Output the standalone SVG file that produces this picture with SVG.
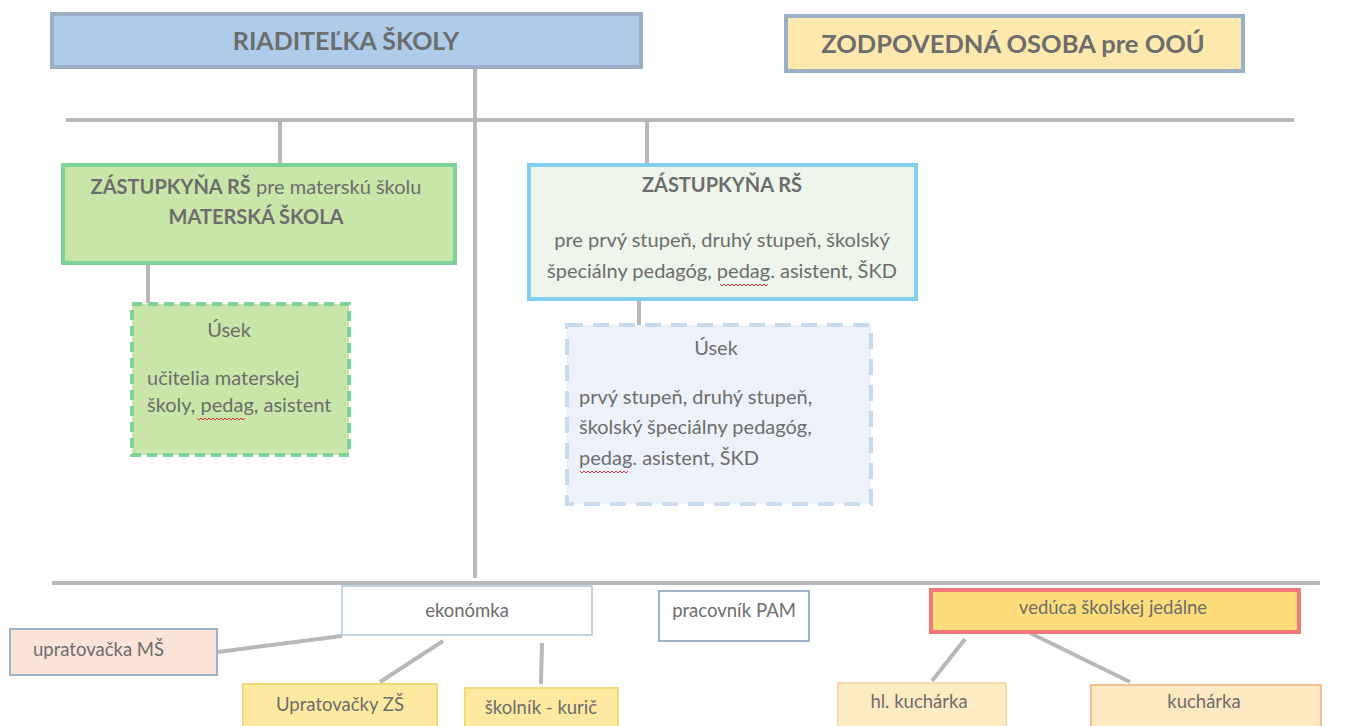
<svg xmlns="http://www.w3.org/2000/svg" width="1360" height="726" viewBox="0 0 1360 726">
<style>
text{font-family:Lato,"Open Sans","Liberation Sans",sans-serif;fill:#6d6d6d;}
.b{font-weight:bold;}
.c{text-anchor:middle;}
.m{font-size:20px;}
.s{font-size:18.5px;}
.ln{stroke:#b8b8b8;stroke-width:4;fill:none;}
.sq{stroke:#e03030;stroke-width:1;fill:none;}
</style>
<rect width="1360" height="726" fill="#ffffff"/>
<g id="connectors">
<line class="ln" x1="475" y1="68" x2="475" y2="578"/>
<line class="ln" x1="66" y1="120" x2="1294" y2="120"/>
<line class="ln" x1="280" y1="120" x2="280" y2="163"/>
<line class="ln" x1="647" y1="120" x2="647" y2="163"/>
<line class="ln" x1="148" y1="264" x2="148" y2="303"/>
<line class="ln" x1="639" y1="300" x2="639" y2="325"/>
<line class="ln" x1="52" y1="583" x2="1320" y2="583"/>
<line class="ln" x1="342" y1="636" x2="218" y2="652"/>
<line class="ln" x1="443" y1="641" x2="380" y2="682"/>
<line class="ln" x1="542" y1="643" x2="541" y2="684"/>
<line class="ln" x1="965" y1="639" x2="932" y2="681"/>
<line class="ln" x1="1030" y1="633" x2="1130" y2="682"/>
</g>
<g id="riaditelka">
<rect x="52" y="14" width="589" height="53" fill="#aecbea" stroke="#9aaec4" stroke-width="4"/>
<text class="b c" x="346" y="50" font-size="25">RIADITEĽKA ŠKOLY</text>
</g>
<g id="zodpovedna">
<rect x="786" y="16" width="457" height="55" fill="#fde9ad" stroke="#9ab0c8" stroke-width="4"/>
<text class="b c" x="1013" y="53" font-size="25.5">ZODPOVEDNÁ OSOBA pre OOÚ</text>
</g>
<g id="zastupkyna-ms">
<rect x="63" y="165" width="392" height="98" fill="#c9e6a8" stroke="#7dd29a" stroke-width="4"/>
<text class="c m" x="256" y="194"><tspan class="b">ZÁSTUPKYŇA RŠ</tspan> pre materskú školu</text>
<text class="b c m" x="256" y="224">MATERSKÁ ŠKOLA</text>
</g>
<g id="usek-ms">
<rect x="132" y="304" width="217" height="151" fill="#c9e6a8" stroke="#7dd29a" stroke-width="4" stroke-dasharray="10,6"/>
<text class="c m" x="229" y="337">Úsek</text>
<text class="m" x="147" y="385">učitelia materskej</text>
<text class="m" x="147" y="412">školy, pedag, asistent</text>
<path class="sq" d="M197 418 l2 2 l2 -2 l2 2 l2 -2 l2 2 l2 -2 l2 2 l2 -2 l2 2 l2 -2 l2 2 l2 -2 l2 2 l2 -2 l2 2 l2 -2 l2 2 l2 -2 l2 2 l2 -2 l2 2 l2 -2 l2 2 l2 -2"/>
</g>
<g id="zastupkyna-zs">
<rect x="529" y="165" width="387" height="134" fill="#eef5ea" stroke="#7fd0ee" stroke-width="4"/>
<text class="b c m" x="722" y="192">ZÁSTUPKYŇA RŠ</text>
<text class="c m" x="722" y="247">pre prvý stupeň, druhý stupeň, školský</text>
<text class="c m" x="722" y="278">špeciálny pedagóg, pedag. asistent, ŠKD</text>
<path class="sq" d="M720 284 l2 2 l2 -2 l2 2 l2 -2 l2 2 l2 -2 l2 2 l2 -2 l2 2 l2 -2 l2 2 l2 -2 l2 2 l2 -2 l2 2 l2 -2 l2 2 l2 -2 l2 2 l2 -2 l2 2 l2 -2 l2 2 l2 -2"/>
</g>
<g id="usek-zs">
<rect x="567" y="325" width="304" height="179" fill="#edf2fa" stroke="#c8daee" stroke-width="4" stroke-dasharray="16,10"/>
<text class="c m" x="716" y="355">Úsek</text>
<text class="m" x="579" y="404">prvý stupeň, druhý stupeň,</text>
<text class="m" x="579" y="434">školský špeciálny pedagóg,</text>
<text class="m" x="579" y="465">pedag. asistent, ŠKD</text>
<path class="sq" d="M580 471 l2 2 l2 -2 l2 2 l2 -2 l2 2 l2 -2 l2 2 l2 -2 l2 2 l2 -2 l2 2 l2 -2 l2 2 l2 -2 l2 2 l2 -2 l2 2 l2 -2 l2 2 l2 -2 l2 2 l2 -2 l2 2 l2 -2"/>
</g>
<g id="ekonomka">
<rect x="342" y="586" width="250" height="49" fill="#ffffff" stroke="#a8c8e0" stroke-width="1.5"/>
<text class="c s" x="467" y="617">ekonómka</text>
</g>
<g id="upratovacka-ms">
<rect x="10" y="629" width="207" height="46" fill="#fae3d7" stroke="#9fb3c8" stroke-width="2"/>
<text class="s" x="33" y="656">upratovačka MŠ</text>
</g>
<g id="upratovacky-zs">
<rect x="243" y="684" width="194" height="44" fill="#fde9a0" stroke="#f5d87a" stroke-width="2"/>
<text class="c s" x="340" y="711">Upratovačky ZŠ</text>
</g>
<g id="skolnik">
<rect x="465" y="688" width="153" height="40" fill="#fde9a0" stroke="#f5d87a" stroke-width="2"/>
<text class="c s" x="541" y="714">školník - kurič</text>
</g>
<g id="pracovnik-pam">
<rect x="659" y="591" width="150" height="50" fill="#ffffff" stroke="#9fb3c8" stroke-width="2"/>
<text class="c s" x="734" y="617">pracovník PAM</text>
</g>
<g id="veduca">
<rect x="931" y="590" width="368" height="42" fill="#fddc7a" stroke="#f27878" stroke-width="4"/>
<text class="c s" x="1113" y="614">vedúca školskej jedálne</text>
</g>
<g id="hl-kucharka">
<rect x="838" y="683" width="168" height="45" fill="#fdebc2" stroke="#f8d9b0" stroke-width="2"/>
<text class="c s" x="919" y="708">hl. kuchárka</text>
</g>
<g id="kucharka">
<rect x="1091" y="685" width="230" height="43" fill="#fde8c2" stroke="#f2c08e" stroke-width="2"/>
<text class="c s" x="1204" y="708">kuchárka</text>
</g>
</svg>
